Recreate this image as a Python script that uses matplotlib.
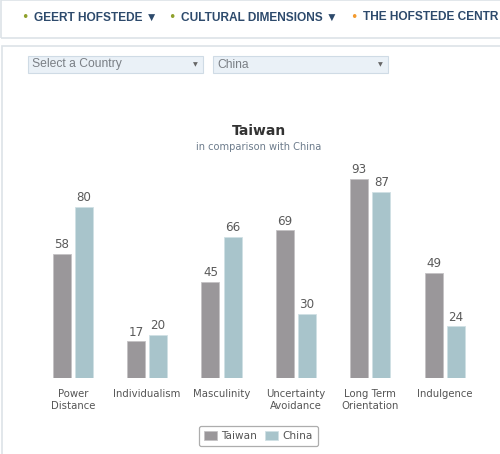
import matplotlib
matplotlib.use("Agg")
import matplotlib.pyplot as plt
import numpy as np
from matplotlib.patches import Rectangle

categories = ["Power\nDistance", "Individualism", "Masculinity",
              "Uncertainty\nAvoidance", "Long Term\nOrientation", "Indulgence"]
taiwan = [58, 17, 45, 69, 93, 49]
china = [80, 20, 66, 30, 87, 24]
series_names = ["Taiwan", "China"]
nav_items = ["GEERT HOFSTEDE \u25BC", "CULTURAL DIMENSIONS \u25BC", "THE HOFSTEDE CENTR"]
nav_bullets = ["#8fa12c", "#8fa12c", "#f39a2e"]
dropdowns = ["Select a Country", "China"]

W, H = 500, 454
fig = plt.figure(figsize=(W / 100, H / 100), dpi=100)
fig.patch.set_facecolor("white")

def fx(px):
    return px / W

def fy(py):
    return 1 - py / H

border = "#dde3e8"
fig.patches.append(Rectangle((fx(1), fy(38)), fx(520), 38 / H, transform=fig.transFigure,
                             facecolor="none", edgecolor=border, lw=1.2, zorder=-5))
fig.patches.append(Rectangle((fx(2), fy(470)), fx(520), 424 / H, transform=fig.transFigure,
                             facecolor="none", edgecolor=border, lw=1.2, zorder=-5))

nav_x = [34, 181, 363]
for x, t, c in zip(nav_x, nav_items, nav_bullets):
    fig.text(fx(x - 9), fy(18), "\u2022", color=c, fontsize=9, ha="center", va="center",
             family=["DejaVu Sans"])
    fig.text(fx(x), fy(17.5), t, color="#2d4a6c", fontsize=8.6, fontweight="bold",
             ha="left", va="center", family=["Liberation Sans", "DejaVu Sans"])

dd_x = [28, 213]
for x, t in zip(dd_x, dropdowns):
    fig.patches.append(Rectangle((fx(x), fy(73)), fx(175), 17 / H, transform=fig.transFigure,
                                 facecolor="#eaf1f7", edgecolor="#cfdbe5", lw=0.8, zorder=-4))
    fig.text(fx(x + 4), fy(64.5), t, color="#7a7f85", fontsize=8.7, ha="left", va="center",
             family=["Liberation Sans", "DejaVu Sans"])
    fig.text(fx(x + 167), fy(64.5), "\u25BC", color="#666666", fontsize=4.5, ha="center",
             va="center", family=["DejaVu Sans"])

ax = fig.add_axes([fx(35.5), 1 - 377.7 / H, fx(446.4), 213.75 / H])
ax.set_facecolor("none")
x = np.arange(len(categories))
bw = 0.242
off = 0.148
c_tw = "#9a979a"
c_cn = "#a8c4cb"
b1 = ax.bar(x - off, taiwan, bw, color=c_tw, edgecolor="#c4c2c4", lw=0.6, label=series_names[0])
b2 = ax.bar(x + off, china, bw, color=c_cn, edgecolor="#d0e0e4", lw=0.6, label=series_names[1])
for bars, vals in ((b1, taiwan), (b2, china)):
    for r, v in zip(bars, vals):
        ax.text(r.get_x() + r.get_width() / 2, v + 1.2, str(v), ha="center", va="bottom",
                fontsize=8.6, color="#5a5a5a", family=["DejaVu Sans"])
ax.set_xlim(-0.5, len(categories) - 0.5)
ax.set_ylim(0, 100)
ax.set_xticks(x)
ax.set_xticklabels(categories, fontsize=7.3, color="#555555", linespacing=1.25,
                   family=["DejaVu Sans"])
ax.tick_params(axis="x", length=0, pad=8)
ax.set_yticks([])
for s in ax.spines.values():
    s.set_visible(False)

fig.text(fx(259), fy(131), "Taiwan", ha="center", va="center", fontsize=10,
         fontweight="bold", color="#333333", family=["DejaVu Sans"])
fig.text(fx(259), fy(147), "in comparison with China", ha="center", va="center",
         fontsize=7.1, color="#6d7c8c", family=["DejaVu Sans"])

leg = ax.legend(loc="center", bbox_to_anchor=(fx(258.5), fy(436)),
                bbox_transform=fig.transFigure, ncol=2, frameon=True, fancybox=True,
                fontsize=7.6, handlelength=1.2, handleheight=1.0, handletextpad=0.4,
                columnspacing=0.8, borderpad=0.5, edgecolor="#999999")
leg.get_frame().set_linewidth(0.9)
for t in leg.get_texts():
    t.set_color("#555555")

fig.savefig("out.png", dpi=100, facecolor="white")
